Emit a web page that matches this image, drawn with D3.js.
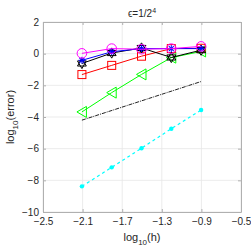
<!DOCTYPE html>
<html>
<head>
<meta charset="utf-8">
<script src="https://cdn.jsdelivr.net/npm/d3@7"></script>
<style>
  body { margin: 0; background: #fff; }
  text { font-family: "Liberation Sans", Arial, sans-serif; fill: #262626; }
</style>
</head>
<body>
<div id="chart"></div>
<script>
// log10(h) for h = 1/128 ... 1/8
const logH = [-2.107, -1.806, -1.505, -1.204, -0.903];
const magentaCircle = [0.02, 0.32, 0.28, 0.32, 0.46];
const blueStar = [-0.42, 0.12, 0.32, 0.32, 0.32];
const blackHex = [-0.62, 0.04, 0.36, -0.24, 0.22];
const redSquare = [-1.32, -0.74, -0.16, 0.32, 0.34];
const greenTri = [-3.68, -2.46, -1.31, -0.25, 0.14];
const cyanDot = [-8.38, -7.18, -5.97, -4.74, -3.56];
const refLineX = [-2.107, -0.903];
const refLineY = [-4.2, -1.76];
const xTicks = [-2.5, -2.1, -1.7, -1.3, -0.9, -0.5];
const yTicks = [2, 0, -2, -4, -6, -8, -10];

const W = 251, H = 251;
const margin = { left: 43, right: 10, top: 22, bottom: 39 };

const svg = d3.select("#chart").append("svg").attr("width", W).attr("height", H);
const x = d3.scaleLinear().domain([-2.5, -0.5]).range([margin.left, W - margin.right]);
const y = d3.scaleLinear().domain([-10, 2]).range([H - margin.bottom, margin.top]);

// grid
svg.append("g").selectAll("line").data(xTicks).join("line")
    .attr("x1", d => x(d)).attr("x2", d => x(d))
    .attr("y1", y(-10)).attr("y2", y(2))
    .attr("stroke", "#e6e6e6").attr("stroke-width", 0.8);
svg.append("g").selectAll("line").data(yTicks).join("line")
    .attr("y1", d => y(d)).attr("y2", d => y(d))
    .attr("x1", x(-2.5)).attr("x2", x(-0.5))
    .attr("stroke", "#e6e6e6").attr("stroke-width", 0.8);

// axes (ticks inside)
const xAxis = svg.append("g").attr("transform", `translate(0,${y(-10)})`)
    .call(d3.axisBottom(x).tickValues(xTicks).tickSizeInner(-3).tickSizeOuter(0).tickPadding(6).tickFormat(d3.format(".1f")));
const yAxis = svg.append("g").attr("transform", `translate(${x(-2.5)},0)`)
    .call(d3.axisLeft(y).tickValues(yTicks).tickSizeInner(-3).tickSizeOuter(0).tickPadding(4));
const xTop = svg.append("g").attr("transform", `translate(0,${y(2)})`)
    .call(d3.axisTop(x).tickValues(xTicks).tickSizeInner(-3).tickSizeOuter(0).tickFormat(""));
const yRight = svg.append("g").attr("transform", `translate(${x(-0.5)},0)`)
    .call(d3.axisRight(y).tickValues(yTicks).tickSizeInner(-3).tickSizeOuter(0).tickFormat(""));
[xAxis, yAxis, xTop, yRight].forEach(g => {
    g.selectAll("path").attr("stroke", "#b0b0b0").attr("stroke-width", 1);
    g.selectAll("line").attr("stroke", "#b0b0b0");
    g.selectAll("text").style("font-size", "10px").attr("fill", "#262626")
        .style("font-family", "Liberation Sans, Arial, sans-serif");
});

const pts = vals => vals.map((v, i) => [logH[i], v]);
const line = d3.line().x(d => x(d[0])).y(d => y(d[1]));

// reference slope line
svg.append("path").datum(refLineX.map((v, i) => [v, refLineY[i]]))
    .attr("d", line).attr("fill", "none").attr("stroke", "#222")
    .attr("stroke-width", 1).attr("stroke-dasharray", "4,1,1,1");

// cyan dashed
svg.append("path").datum(pts(cyanDot)).attr("d", line).attr("fill", "none")
    .attr("stroke", "#00ffff").attr("stroke-width", 1.2).attr("stroke-dasharray", "3,3");
svg.append("g").selectAll("circle").data(pts(cyanDot)).join("circle")
    .attr("cx", d => x(d[0])).attr("cy", d => y(d[1])).attr("r", 2.2).attr("fill", "#00ffff");

function series(vals, color, marker) {
    const g = svg.append("g");
    g.append("path").datum(pts(vals)).attr("d", line).attr("fill", "none")
        .attr("stroke", color).attr("stroke-width", 1);
    const m = g.selectAll("g").data(pts(vals)).join("g")
        .attr("transform", d => `translate(${x(d[0])},${y(d[1])})`);
    if (marker === "circle") {
        m.append("circle").attr("r", 4.8).attr("fill", "none").attr("stroke", color).attr("stroke-width", 1);
    } else if (marker === "square") {
        m.append("rect").attr("x", -4).attr("y", -4).attr("width", 8).attr("height", 8)
            .attr("fill", "none").attr("stroke", color).attr("stroke-width", 1);
    } else if (marker === "triangle") {
        m.append("path").attr("d", "M-5,0L4.5,-5.5L4.5,5.5Z")
            .attr("fill", "none").attr("stroke", color).attr("stroke-width", 1);
    } else if (marker === "hex") {
        m.append("path").attr("d", d3.symbol(d3.symbolTriangle, 34)())
            .attr("fill", "none").attr("stroke", color).attr("stroke-width", 1);
        m.append("path").attr("d", d3.symbol(d3.symbolTriangle, 34)()).attr("transform", "rotate(180)")
            .attr("fill", "none").attr("stroke", color).attr("stroke-width", 1);
    } else if (marker === "star") {
        [0, 45, 90, 135].forEach(a => {
            m.append("line").attr("x1", -3.5).attr("x2", 3.5).attr("transform", `rotate(${a})`)
                .attr("stroke", color).attr("stroke-width", 1);
        });
    }
}

series(greenTri, "#00ff00", "triangle");
series(redSquare, "#ff0000", "square");
series(blackHex, "#000000", "hex");
series(blueStar, "#0000ff", "star");
series(magentaCircle, "#ff00ff", "circle");

// title
const title = svg.append("text").attr("x", (x(-2.5) + x(-0.5)) / 2).attr("y", 17)
    .attr("text-anchor", "middle").style("font-size", "10px");
title.append("tspan").text("ϵ=1/2");
title.append("tspan").attr("dy", -4).style("font-size", "7px").text("4");

// x label
const xl = svg.append("text").attr("x", (x(-2.5) + x(-0.5)) / 2).attr("y", 241)
    .attr("text-anchor", "middle").style("font-size", "11px");
xl.append("tspan").text("log");
xl.append("tspan").attr("dy", 4).style("font-size", "8px").text("10");
xl.append("tspan").attr("dy", -4).text("(h)");

// y label
const yl = svg.append("text").attr("transform", `translate(14,${(y(-10) + y(2)) / 2}) rotate(-90)`)
    .attr("text-anchor", "middle").style("font-size", "11px");
yl.append("tspan").text("log");
yl.append("tspan").attr("dy", 4).style("font-size", "8px").text("10");
yl.append("tspan").attr("dy", -4).text("(error)");
</script>
</body>
</html>
